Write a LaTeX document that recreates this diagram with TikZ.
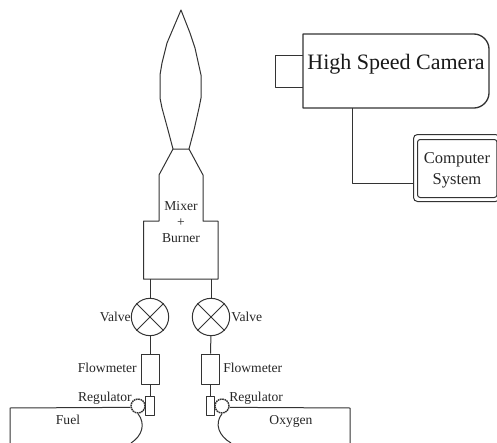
\documentclass[tikz,border=0pt]{standalone}
\usepackage{fontspec}
\setmainfont{Liberation Serif}
\begin{document}
\begin{tikzpicture}[x=0.75pt,y=-0.75pt,
  line/.style={draw=black!80,line width=0.75pt,line join=round},
  lbl/.style={inner sep=0pt,font=\fontsize{10.2pt}{12pt}\selectfont,align=center,text=black!85},
  valvecirc/.style={line,circle,minimum size=28pt,inner sep=0pt},
  meter/.style={line,rectangle,inner sep=0pt},
  regcirc/.style={line,circle,minimum size=10.5pt,inner sep=0pt,dash pattern=on 1.2pt off 0.5pt,line width=1.1pt}]
\useasboundingbox (0,0) rectangle (497,443);
% flame and mixer outline
\draw[line] (173,149) -- (168,130) -- (162,108) -- (160,98) -- (160,75) -- (162,63) -- (167,43) -- (181,10)
  -- (190,33) -- (195,48) -- (201,75) -- (201,98) -- (199,108) -- (194,130) -- (189,149) -- cycle;
\draw[line] (173,149) -- (159,175) -- (159,221) -- (143.5,221) -- (143.5,279) -- (218,279) -- (218,221) -- (203,221) -- (203,175) -- (189,149);
\coordinate (burnerL) at (150,279);
\coordinate (burnerR) at (211,279);
\node[lbl] (mixer) at (181,222) {Mixer\\+\\Burner};
% valves
\node[valvecirc] (v1) at (150,317) {};
\node[valvecirc] (v2) at (211,317) {};
\foreach \v in {v1,v2}{
  \draw[line] (\v.north west) -- (\v.south east);
  \draw[line] (\v.north east) -- (\v.south west);
}
\node[lbl,anchor=east] (vl1) at (131,317) {Valve};
\node[lbl,anchor=west] (vl2) at (231,317) {Valve};
% flowmeters
\node[meter,minimum width=13.5pt,minimum height=23pt] (f1) at (150,369.5) {};
\node[meter,minimum width=14pt,minimum height=23pt] (f2) at (210.5,369.5) {};
\node[lbl,anchor=east] (fl1) at (137,368) {Flowmeter};
\node[lbl,anchor=west] (fl2) at (223,368) {Flowmeter};
% regulators
\node[meter,minimum width=6.5pt,minimum height=14pt] (r1) at (150,406) {};
\node[meter,minimum width=6pt,minimum height=14pt] (r2) at (210.5,406) {};
\node[regcirc] (c1) at (138,406) {};
\node[regcirc] (c2) at (222,406) {};
\node[lbl,anchor=east] (rl1) at (132,398) {Regulator};
\node[lbl,anchor=west] (rl2) at (229,398) {Regulator};
\draw[line] (burnerL) -- (v1);
\draw[line] (burnerR) -- (v2);
\draw[line] (v1) -- (f1);
\draw[line] (v2) -- (f2);
\draw[line] (f1) -- (r1);
\draw[line] (f2.south) -- (r2.north);
% tanks
\draw[line] (10,443) -- (10,408) -- (c1.190);
\draw[line] (c1.south) .. controls (146,424) and (142,436) .. (131,443);
\draw[line] (350,443) -- (350,408) -- (c2.-10);
\draw[line] (c2.south) .. controls (214,424) and (219,436) .. (231,443);
\node[lbl] (fuel) at (68,420) {Fuel};
\node[lbl] (oxy) at (291,421) {Oxygen};
% camera
\node[line,anchor=north west,minimum width=21pt,minimum height=24pt,inner sep=0pt] (lens) at (275,55) {};
\draw[line,line width=1pt,fill=white] (303,34) -- (474,34) .. controls (482,34) and (489,41) .. (489,49) -- (489,93) .. controls (489,101) and (482,108) .. (474,108) -- (303,108) -- cycle;
\coordinate (camB) at (352,108);
\node[inner sep=0pt,font=\fontsize{16.5pt}{19pt}\selectfont,text=black!90] (cam) at (396,64) {High Speed Camera};
% computer
\node[line,rounded corners=3pt,anchor=north west,minimum width=64.5pt,minimum height=50.25pt,inner sep=0pt] (pc) at (413,134) {};
\node[line,rounded corners=2pt,anchor=north west,minimum width=59.6pt,minimum height=43.5pt,inner sep=0pt] (pcin) at (417,139) {};
\node[lbl,font=\fontsize{12.4pt}{15.75pt}\selectfont] (pct) at (457,170.5) {Computer\\System};
\draw[line] (camB) |- (pc.west |- 0,183);
\end{tikzpicture}
\end{document}
